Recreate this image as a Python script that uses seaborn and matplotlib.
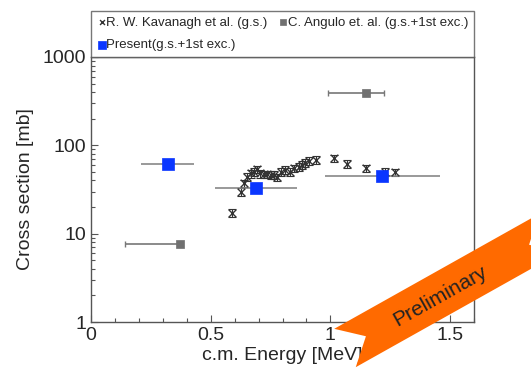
import numpy as np
import pandas as pd
import matplotlib
matplotlib.use("Agg")
import matplotlib.pyplot as plt
import seaborn as sns
from matplotlib.patches import Polygon

# R. W. Kavanagh et al. (g.s.)
kav_e = [0.588, 0.625, 0.639, 0.653, 0.667, 0.680, 0.694, 0.708, 0.722, 0.736,
         0.750, 0.764, 0.778, 0.792, 0.812, 0.833, 0.847, 0.868, 0.882, 0.896,
         0.910, 0.938, 1.014, 1.069, 1.148, 1.229, 1.271]
kav_xs = [17.3, 29.9, 37.2, 44.0, 48.0, 50.0, 53.5, 48.0, 47.0, 47.0,
          46.0, 46.0, 43.5, 50.0, 52.5, 50.0, 55.0, 57.4, 60.0, 63.5,
          67.0, 68.0, 71.3, 61.4, 55.0, 50.0, 49.4]
kav_err = [1.8, 3.0, 3.7, 4.4, 4.8, 5.0, 5.3, 4.8, 4.7, 4.7,
           4.6, 4.6, 4.3, 5.0, 5.2, 5.0, 5.5, 5.7, 6.0, 6.3,
           6.7, 6.8, 7.1, 6.1, 5.5, 5.0, 4.9]

# C. Angulo et al. (g.s.+1st exc.)
ang_e = [0.37, 1.15]
ang_xs = [7.6, 391.0]
ang_elo = [0.23, 0.16]
ang_ehi = [0.0, 0.075]

# Present (g.s.+1st exc.)
pre_e = [0.32, 0.69, 1.217]
pre_xs = [61.0, 32.8, 44.9]
pre_elo = [0.11, 0.17, 0.24]
pre_ehi = [0.11, 0.17, 0.24]

labels = ["R. W. Kavanagh et al. (g.s.)", "C. Angulo et. al. (g.s.+1st exc.)",
          "Present(g.s.+1st exc.)"]

sns.set_style("ticks")
plt.rcParams["font.family"] = ["Liberation Sans", "DejaVu Sans"]

fig = plt.figure(figsize=(5.31, 3.74), dpi=100)
ax = fig.add_axes([0.1714, 0.139, 0.7213, 0.7086])

kav = pd.DataFrame({"E": kav_e, "xs": kav_xs})
ang = pd.DataFrame({"E": ang_e, "xs": ang_xs})
pre = pd.DataFrame({"E": pre_e, "xs": pre_xs})

# error bars
ax.errorbar(kav_e, kav_xs, yerr=kav_err, fmt="none", ecolor="#333333",
            elinewidth=0.8, capsize=3, capthick=0.8, zorder=2)
ax.errorbar(ang_e, ang_xs, xerr=[ang_elo, ang_ehi], fmt="none", ecolor="#777777",
            elinewidth=1.2, capsize=2, capthick=1.0, zorder=2)
ax.errorbar(pre_e, pre_xs, xerr=[pre_elo, pre_ehi], fmt="none", ecolor="#888888",
            elinewidth=1.2, capsize=0, zorder=2)

sns.scatterplot(data=kav, x="E", y="xs", marker="x", s=30, color="#333333",
                linewidth=1.0, ax=ax, zorder=3, label=labels[0])
sns.scatterplot(data=ang, x="E", y="xs", marker="s", s=38, color="#707070",
                edgecolor="#707070", linewidth=0.5, ax=ax, zorder=3, label=labels[1])
sns.scatterplot(data=pre, x="E", y="xs", marker="s", s=70, color="#0a36ff",
                edgecolor="#0a36ff", linewidth=0.5, ax=ax, zorder=3, label=labels[2])

ax.set_yscale("log")
ax.set_xlim(0, 1.6)
ax.set_ylim(1, 1000)
ax.set_xticks([0, 0.5, 1, 1.5])
ax.set_xticklabels(["0", "0.5", "1", "1.5"])
ax.set_xticks(np.arange(0, 1.61, 0.1), minor=True)
ax.set_yticks([1, 10, 100, 1000])
ax.set_yticklabels(["1", "10", "100", "1000"])
ax.tick_params(which="both", direction="in", color="#555555", labelsize=14, width=0.8)
ax.tick_params(which="major", length=5)
ax.tick_params(which="minor", length=3)
ax.set_xlabel("c.m. Energy [MeV]", fontsize=14, labelpad=2)
ax.set_ylabel("Cross section [mb]", fontsize=14, labelpad=6)
for s in ax.spines.values():
    s.set_color("#555555")
    s.set_linewidth(1.0)

# legend box above the axes (column-major fill: Kavanagh, Present | Angulo)
h, l = ax.get_legend_handles_labels()
hmap = dict(zip(l, h))
order = [labels[0], labels[2], labels[1]]
leg = ax.legend([hmap[k] for k in order], order, loc="lower left",
                bbox_to_anchor=(0, 1, 1, 0.17), mode="expand", ncol=2,
                borderaxespad=0, fancybox=False, edgecolor="#555555",
                fontsize=9.5, handletextpad=0.0, handlelength=0.7,
                columnspacing=1.0, borderpad=0.45, labelspacing=0.75, markerscale=0.65)
leg.get_frame().set_linewidth(1.0)

# "Preliminary" ribbon
W, H = 531, 374
p0 = np.array([345.0, 348.0])
p1 = np.array([550.0, 233.0])
d = (p1 - p0) / np.linalg.norm(p1 - p0)
n = np.array([-d[1], d[0]])
w, notch = 22.0, 24.0
pts = [p0 + n * w, p0 + d * notch, p0 - n * w, p1 - n * w, p1 - d * notch, p1 + n * w]
pts = [(x / W, 1 - y / H) for x, y in pts]
fig.patches.append(Polygon(pts, closed=True, transform=fig.transFigure,
                           facecolor="#ff6a00", edgecolor="none", zorder=10))
rot = np.degrees(np.arctan2(-(p1 - p0)[1], (p1 - p0)[0]))
fig.text(440 / W, 1 - 296 / H, "Preliminary", rotation=rot, ha="center", va="center",
         fontsize=15, color="#222222", zorder=11)

fig.savefig("out.png", dpi=100)
